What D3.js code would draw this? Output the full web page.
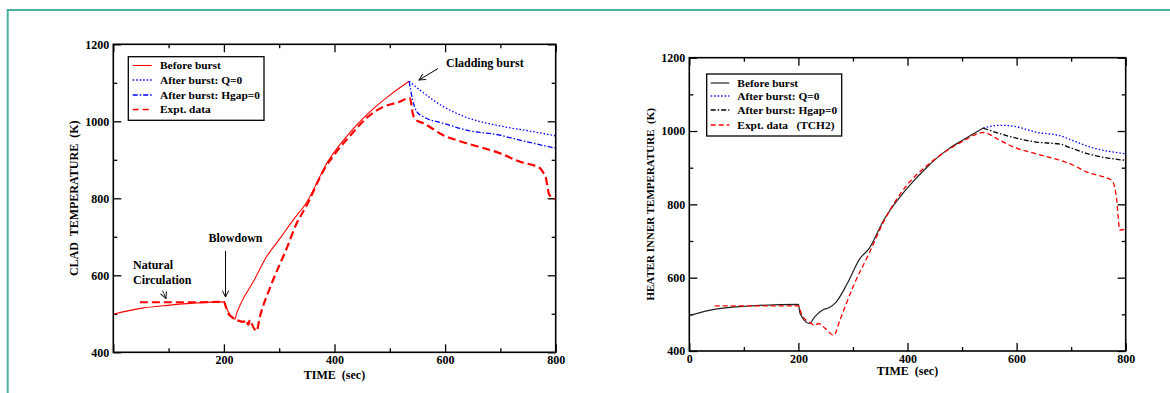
<!DOCTYPE html>
<html>
<head>
<meta charset="utf-8">
<script src="https://cdn.jsdelivr.net/npm/d3@7"></script>
<style>
  html, body { margin: 0; padding: 0; background: #ffffff; }
  svg { display: block; }
  text { font-family: "Liberation Serif", "Times New Roman", serif; font-weight: bold; fill: #000; }
</style>
</head>
<body>
<svg id="chart" width="1170" height="393"></svg>
<script>
// ---------------- DATA ----------------
const xTickValues = [0, 200, 400, 600, 800];
const xMinorTicks = [100, 300, 500, 700];
const yTickValues = [400, 600, 800, 1000, 1200];
const yMinorTicks = [500, 700, 900, 1100];

// Left chart: clad temperature
const leftBeforeT = [0, 49, 98, 140, 200, 205, 214, 220, 223, 232, 253, 277, 301.5, 325.5, 348, 389, 431, 473, 500, 535];
const leftBeforeK = [499, 514, 522, 527, 531, 514, 492, 486, 501, 531, 583, 648, 696, 744, 786, 898, 976, 1036, 1068, 1104];
const leftQ0T = [535, 554.6, 597, 639, 699, 759.5, 800];
const leftQ0K = [1104, 1081, 1038, 1010, 988, 973, 962];
const leftHgapT = [535, 541.4, 548.6, 560.6, 596.7, 639, 699, 735.4, 800];
const leftHgapK = [1104, 1055, 1025, 1012, 995, 977, 964, 951, 930];
const leftExptT = [48, 100, 150, 200, 203.6, 208, 214, 223, 235, 240, 244, 247, 250, 259, 265, 283, 313.5, 331.6, 348, 382, 403, 431, 459, 486, 514, 536.5, 541.4, 545.6, 560.6, 596.7, 639, 699, 735.4, 771.6, 777, 782.5, 785, 788.5, 800];
const leftExptK = [530, 530, 530, 531, 518, 501, 492, 484, 479, 484, 471, 484, 475, 455, 492, 566, 670, 735, 777, 877, 920, 967, 1010, 1036, 1049, 1060, 1021, 1005, 995, 964, 943, 917, 895, 878, 868, 852, 830, 809, 797];

// Right chart: heater inner temperature
const rightBeforeT = [0, 36.6, 103, 200, 203, 220, 230, 246, 256, 269.6, 289.6, 312.7, 329.5, 356, 396, 436, 476, 502.5, 539];
const rightBeforeK = [497, 511, 522, 527, 502, 475, 493, 513, 518, 534, 584, 652, 679, 756, 838, 902, 952, 976, 1008];
const rightQ0T = [539, 569, 595, 635.6, 682, 702, 735.5, 800];
const rightQ0K = [1008, 1015.6, 1013, 997, 986, 974.6, 956, 938];
const rightHgapT = [539, 569, 635.6, 682, 695.6, 735.5, 800];
const rightHgapK = [1008, 993, 970, 963.7, 956, 936, 920];
const rightExptT = [46.5, 120, 200, 206.6, 220, 230, 236.6, 249.6, 264.9, 276, 302.7, 329.5, 356, 396, 436, 476, 502.5, 539, 569, 595, 635.6, 689, 702, 729, 769, 774.3, 780, 783.5, 786.5, 789, 794, 800];
const rightExptK = [523, 523, 523, 497, 479, 470, 475, 461, 443, 484, 584, 666, 752, 847, 906, 950, 973, 996, 975, 956, 938, 915.5, 908, 888, 870, 866, 845, 812, 760, 730, 730, 741];

const leftLegendLabels = ["Before burst", "After burst: Q=0", "After burst: Hgap=0", "Expt. data"];
const rightLegendLabels = ["Before burst", "After burst: Q=0", "After burst: Hgap=0", "Expt. data   (TCH2)"];

// ---------------- DRAW ----------------
const svg = d3.select("#chart");

// teal frame
svg.append("line").attr("x1", 7.7).attr("x2", 7.7).attr("y1", 10).attr("y2", 393)
  .attr("stroke", "#4fb0a0").attr("stroke-width", 2);
svg.append("line").attr("x1", 6.7).attr("x2", 1170).attr("y1", 10).attr("y2", 10)
  .attr("stroke", "#4fb0a0").attr("stroke-width", 2);

const defs = svg.append("defs");
defs.append("marker").attr("id", "arrow").attr("viewBox", "0 0 10 10")
  .attr("refX", 9).attr("refY", 5).attr("markerWidth", 8).attr("markerHeight", 8)
  .attr("markerUnits", "userSpaceOnUse").attr("orient", "auto")
  .append("path").attr("d", "M1,1 L9,5 L1,9").attr("fill", "none").attr("stroke", "#000").attr("stroke-width", 1.2);

function zip(t, k) { return t.map((d, i) => [d, k[i]]); }
const fmt = d3.format("d");

function drawPanel(cfg) {
  const x = d3.scaleLinear().domain([0, 800]).range([cfg.x0, cfg.x1]);
  const y = d3.scaleLinear().domain([400, 1200]).range([cfg.y0, cfg.y1]);
  const g = svg.append("g");

  const tickStyle = sel => {
    sel.select(".domain").remove();
    sel.selectAll(".tick line").attr("stroke", "#000").attr("stroke-width", 1.3);
  };
  const labelStyle = sel => sel.selectAll("text").attr("font-size", 12)
    .attr("font-family", "Liberation Serif, serif").attr("font-weight", "bold").attr("fill", "#000");

  // major axes
  const bottom = g.append("g").attr("transform", `translate(0,${cfg.y0})`)
    .call(d3.axisBottom(x).tickValues(xTickValues).tickSizeInner(-8).tickSizeOuter(0).tickPadding(3)
      .tickFormat(d => (cfg.hideZero && d === 0) ? "" : fmt(d)));
  tickStyle(bottom); labelStyle(bottom);
  g.append("g").attr("transform", `translate(0,${cfg.y0})`)
    .call(d3.axisBottom(x).tickValues(xMinorTicks).tickSizeInner(-4).tickSizeOuter(0).tickFormat("")).call(tickStyle);
  g.append("g").attr("transform", `translate(0,${cfg.y1})`)
    .call(d3.axisTop(x).tickValues(xTickValues).tickSizeInner(-8).tickSizeOuter(0).tickFormat("")).call(tickStyle);
  g.append("g").attr("transform", `translate(0,${cfg.y1})`)
    .call(d3.axisTop(x).tickValues(xMinorTicks).tickSizeInner(-4).tickSizeOuter(0).tickFormat("")).call(tickStyle);

  const left = g.append("g").attr("transform", `translate(${cfg.x0},0)`)
    .call(d3.axisLeft(y).tickValues(yTickValues).tickSizeInner(-8).tickSizeOuter(0).tickPadding(4).tickFormat(fmt));
  tickStyle(left); labelStyle(left);
  g.append("g").attr("transform", `translate(${cfg.x0},0)`)
    .call(d3.axisLeft(y).tickValues(yMinorTicks).tickSizeInner(-4).tickSizeOuter(0).tickFormat("")).call(tickStyle);
  g.append("g").attr("transform", `translate(${cfg.x1},0)`)
    .call(d3.axisRight(y).tickValues(yTickValues).tickSizeInner(-8).tickSizeOuter(0).tickFormat("")).call(tickStyle);
  g.append("g").attr("transform", `translate(${cfg.x1},0)`)
    .call(d3.axisRight(y).tickValues(yMinorTicks).tickSizeInner(-4).tickSizeOuter(0).tickFormat("")).call(tickStyle);

  // clip
  const clipId = "clip" + cfg.id;
  defs.append("clipPath").attr("id", clipId).append("rect")
    .attr("x", cfg.x0).attr("y", cfg.y1).attr("width", cfg.x1 - cfg.x0).attr("height", cfg.y0 - cfg.y1);

  const line = d3.line().x(d => x(d[0])).y(d => y(d[1])).curve(d3.curveMonotoneX);
  const plot = g.append("g").attr("clip-path", `url(#${clipId})`);
  cfg.series.forEach(s => {
    plot.append("path").datum(s.data).attr("d", line)
      .attr("fill", "none").attr("stroke", s.color).attr("stroke-width", s.width)
      .attr("stroke-dasharray", s.dash || null).attr("stroke-linejoin", "round");
  });

  // frame
  g.append("rect").attr("x", cfg.x0).attr("y", cfg.y1).attr("width", cfg.x1 - cfg.x0).attr("height", cfg.y0 - cfg.y1)
    .attr("fill", "none").attr("stroke", "#000").attr("stroke-width", 1.6);

  // axis titles
  g.append("text").attr("x", (cfg.x0 + cfg.x1) / 2).attr("y", cfg.xTitleY).attr("text-anchor", "middle")
    .attr("font-size", cfg.xTitleSize).style("white-space", "pre").text("TIME  (sec)");
  g.append("text").attr("transform", `translate(${cfg.yTitleX},${(cfg.y0 + cfg.y1) / 2}) rotate(-90)`)
    .attr("text-anchor", "middle").attr("font-size", cfg.yTitleSize).style("white-space", "pre").text(cfg.yTitle);

  // legend
  const L = cfg.legend;
  g.append("rect").attr("x", L.x).attr("y", L.y).attr("width", L.w).attr("height", L.h)
    .attr("fill", "#fff").attr("stroke", "#000").attr("stroke-width", 1.3);
  cfg.series.forEach((s, i) => {
    const cy = L.rows[i];
    g.append("line").attr("x1", L.lx0).attr("x2", L.lx1).attr("y1", cy).attr("y2", cy)
      .attr("stroke", s.color).attr("stroke-width", Math.min(s.width, 1.6)).attr("stroke-dasharray", s.legDash || s.dash || null);
    g.append("text").attr("x", L.tx).attr("y", cy).attr("dy", "0.35em").attr("font-size", L.fs)
      .style("white-space", "pre").text(cfg.labels[i]);
  });
  return { x, y, g };
}

const left = drawPanel({
  id: "L", x0: 113.3, x1: 555.7, y0: 352.3, y1: 44.3, hideZero: true,
  xTitleY: 379, xTitleSize: 12, yTitleX: 78, yTitleSize: 12, yTitle: "CLAD  TEMPERATURE  (K)",
  labels: leftLegendLabels,
  legend: { x: 128.3, y: 56.7, w: 135.7, h: 63.6, rows: [65.5, 80, 95, 109.5], lx0: 132.7, lx1: 151.7, tx: 160, fs: 11.4 },
  series: [
    { data: zip(leftBeforeT, leftBeforeK), color: "#ff0000", width: 1.1 },
    { data: zip(leftQ0T, leftQ0K), color: "#0000ff", width: 1.3, dash: "1.5,2" },
    { data: zip(leftHgapT, leftHgapK), color: "#0000ff", width: 1.3, dash: "5,2,1.5,2" },
    { data: zip(leftExptT, leftExptK), color: "#ff0000", width: 2.2, dash: "8,4", legDash: "6,4" }
  ]
});

const right = drawPanel({
  id: "R", x0: 689.3, x1: 1125.7, y0: 351, y1: 57.7, hideZero: false,
  xTitleY: 375, xTitleSize: 12, yTitleX: 654, yTitleSize: 11, yTitle: "HEATER INNER TEMPERATURE  (K)",
  labels: rightLegendLabels,
  legend: { x: 706.7, y: 74, w: 135, h: 62, rows: [83, 96, 110, 125], lx0: 710.7, lx1: 729.3, tx: 737.3, fs: 11.4 },
  series: [
    { data: zip(rightBeforeT, rightBeforeK), color: "#222222", width: 1.2 },
    { data: zip(rightQ0T, rightQ0K), color: "#0000ff", width: 1.3, dash: "1.5,2" },
    { data: zip(rightHgapT, rightHgapK), color: "#000000", width: 1.3, dash: "5,2,1.5,2" },
    { data: zip(rightExptT, rightExptK), color: "#ff0000", width: 1.3, dash: "5,3" }
  ]
});

// annotations (left chart)
const ann = left.g;
ann.append("text").attr("x", 446).attr("y", 67).attr("font-size", 12).text("Cladding burst");
ann.append("line").attr("x1", 438).attr("y1", 68.5).attr("x2", 419).attr("y2", 80)
  .attr("stroke", "#000").attr("stroke-width", 1).attr("marker-end", "url(#arrow)");
ann.append("text").attr("x", 208.5).attr("y", 241.5).attr("font-size", 12).text("Blowdown");
ann.append("line").attr("x1", 225.5).attr("y1", 251).attr("x2", 225.5).attr("y2", 297)
  .attr("stroke", "#000").attr("stroke-width", 1).attr("marker-end", "url(#arrow)");
ann.append("text").attr("x", 133).attr("y", 269).attr("font-size", 12).text("Natural");
ann.append("text").attr("x", 133).attr("y", 283.5).attr("font-size", 12).text("Circulation");
ann.append("line").attr("x1", 162.5).attr("y1", 290.5).attr("x2", 166).attr("y2", 298.5)
  .attr("stroke", "#000").attr("stroke-width", 0.8).attr("marker-end", "url(#arrow)");
</script>
</body>
</html>
